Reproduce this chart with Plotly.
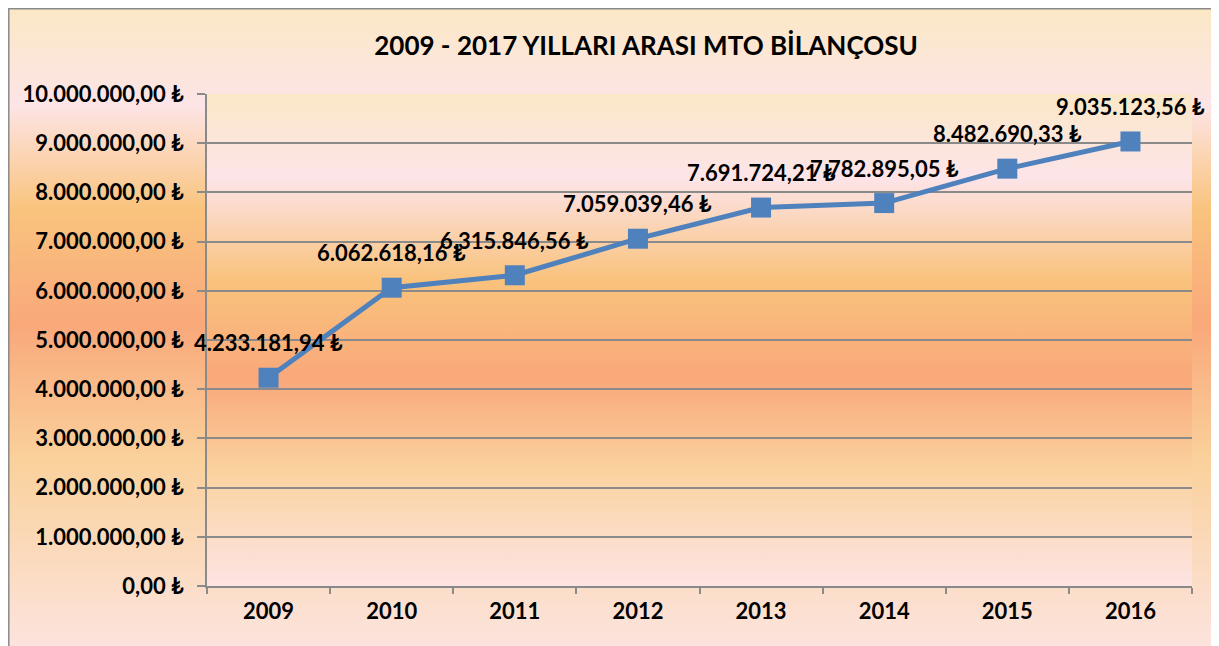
import base64
import plotly.graph_objects as go

years = [2009, 2010, 2011, 2012, 2013, 2014, 2015, 2016]
values = [4233181.94, 6062618.16, 6315846.56, 7059039.46, 7691724.21, 7782895.05, 8482690.33, 9035123.56]
y_ticks = [0, 1000000, 2000000, 3000000, 4000000, 5000000, 6000000, 7000000, 8000000, 9000000, 10000000]
title_text = "2009 - 2017 YILLARI ARASI MTO BİLANÇOSU"


def tl(v):
    s = "{:,.2f}".format(v)
    s = s.replace(",", "X").replace(".", ",").replace("X", ".")
    return s + " ₺"


def grad_uri(stops):
    st = "".join('<stop offset="%s" stop-color="%s"/>' % (o, c) for o, c in stops)
    svg = ('<svg xmlns="http://www.w3.org/2000/svg" width="100" height="100" viewBox="0 0 100 100" '
           'preserveAspectRatio="none"><defs><linearGradient id="g" x1="0" y1="0" x2="0" y2="1">'
           + st + '</linearGradient></defs><rect x="0" y="0" width="100" height="100" fill="url(#g)"/></svg>')
    return "data:image/svg+xml;base64," + base64.b64encode(svg.encode()).decode()


outer_stops = [(0.0, "#FBE8C6"), (0.15, "#FDE4E6"), (0.31, "#F9C47E"), (0.49, "#F9A87A"),
               (0.70, "#FAD19C"), (1.0, "#FCE4E0")]
plot_stops = [(0.0, "#FBE8C8"), (0.17, "#FDE4E8"), (0.38, "#F9C27C"), (0.58, "#F9A87A"),
              (0.77, "#FAD3A0"), (1.0, "#FDE4E4")]

# page has an 8px body margin; figure extends past the window on right/bottom
W, H = 1219, 646
ml, mt = 199, 86
mr, mb = W - 1184, H - 578
pw, ph = W - ml - mr, H - mt - mb

font_fam = "Lato, 'Open Sans', 'DejaVu Sans', sans-serif"
fsize = 22

fig = go.Figure()
fig.add_trace(go.Scatter(
    x=years, y=values, mode="lines+markers",
    line=dict(color="#4F81BD", width=5),
    marker=dict(symbol="square", size=20, color="#4F81BD"),
    hoverinfo="skip", showlegend=False,
))

annotations = []
for yr, v in zip(years, values):
    annotations.append(dict(x=yr, y=v, xref="x", yref="y", text="<b>" + tl(v) + "</b>",
                            showarrow=False, yshift=35,
                            font=dict(family=font_fam, size=fsize, color="#000000")))

fig.update_layout(
    width=W, height=H,
    margin=dict(l=ml, r=mr, t=mt, b=mb, autoexpand=False),
    paper_bgcolor="#FCE7D8",
    plot_bgcolor="rgba(0,0,0,0)",
    title=dict(text="<b>" + title_text + "</b>", x=(638 - ml) / pw, xref="paper", xanchor="center",
               y=1 - 38 / H, yanchor="middle", font=dict(family=font_fam, size=26, color="#000000")),
    images=[
        dict(source=grad_uri(outer_stops), xref="paper", yref="paper",
             x=-ml / pw, y=1 + mt / ph, sizex=W / pw, sizey=H / ph,
             sizing="stretch", layer="below", xanchor="left", yanchor="top"),
        dict(source=grad_uri(plot_stops), xref="paper", yref="paper",
             x=0, y=1, sizex=1, sizey=1, sizing="stretch", layer="below",
             xanchor="left", yanchor="top"),
    ],
    shapes=[dict(type="rect", xref="paper", yref="paper",
                 x0=(0.8 - ml) / pw, x1=(W + 20 - ml) / pw,
                 y0=-(mb + 20) / ph, y1=1 + (mt - 0.8) / ph,
                 line=dict(color="#8A8A8A", width=1.5), layer="below")],
    annotations=annotations,
    xaxis=dict(type="linear", range=[years[0] - 0.5, years[-1] + 0.5],
               tickvals=years, ticktext=["<b>%d</b>" % y for y in years],
               ticks="", showline=True, linecolor="#8A8A8A", linewidth=1.5,
               showgrid=False, zeroline=False, ticklabelstandoff=5,
               minor=dict(ticks="outside", ticklen=6, tickcolor="#8A8A8A", tickwidth=1.5,
                          tick0=years[0] - 0.5, dtick=1, showgrid=False),
               tickfont=dict(family=font_fam, size=fsize, color="#000000")),
    yaxis=dict(range=[0, 10000000], tickvals=y_ticks, ticktext=["<b>" + tl(v) + "</b>" for v in y_ticks],
               ticks="outside", ticklen=8, tickcolor="#8A8A8A", tickwidth=1.5,
               showline=True, linecolor="#8A8A8A", linewidth=1.5,
               showgrid=True, gridcolor="#8A8A8A", gridwidth=1.5, zeroline=False,
               ticklabelstandoff=9,
               tickfont=dict(family=font_fam, size=fsize, color="#000000")),
)

fig.write_html("out.html")
